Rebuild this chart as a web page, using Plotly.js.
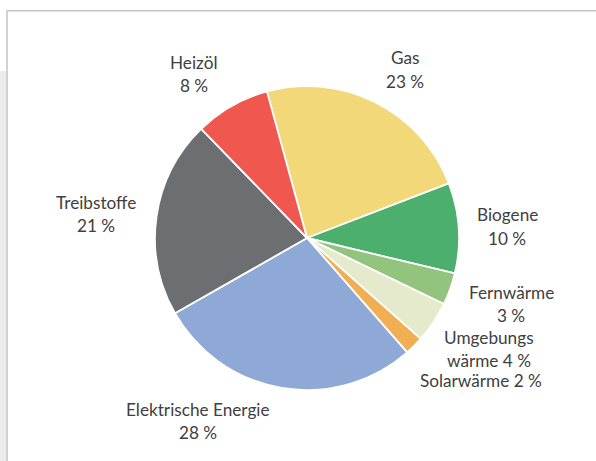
<!DOCTYPE html>
<html>
<head>
<meta charset="utf-8">
<script src="https://cdn.plot.ly/plotly-3.0.1.min.js"></script>
<style>html,body{margin:0;padding:0;background:#fff;}#chart{width:596px;height:461px;}</style>
</head>
<body>
<div id="chart"></div>
<script>
// ---- data ----
const categories = ["Gas", "Biogene", "Fernwärme", "Umgebungswärme", "Solarwärme", "Elektrische Energie", "Treibstoffe", "Heizöl"];
const values = [23.4, 9.6, 3.4, 4.4, 2.0, 28.2, 21.0, 8.0];
const labelLines = [
  ["Gas", "23 %"],
  ["Biogene", "10 %"],
  ["Fernwärme", "3 %"],
  ["Umgebungs", "wärme 4 %"],
  ["Solarwärme 2 %"],
  ["Elektrische Energie", "28 %"],
  ["Treibstoffe", "21 %"],
  ["Heizöl", "8 %"]
];
const colors = ["#F2D878", "#4DAF6D", "#93C47E", "#E6EACC", "#F2AE52", "#8EA9D5", "#6D6E72", "#F0574F"];

// ---- layout helpers (pixel positions of label blocks) ----
const W = 596, H = 461;
const labelPos = [
  [405, 58], [507, 215], [511, 292], [489, 337], [481, 380.5], [198, 409], [96, 202], [194, 62]
];
const lineGap = 23;
const px = x => x / W;
const py = y => 1 - y / H;

const cx = 307, cy = 238, r = 152;

const annotations = [];
labelLines.forEach((lines, i) => {
  lines.forEach((t, j) => {
    annotations.push({
      text: t, xref: "paper", yref: "paper",
      x: px(labelPos[i][0]), y: py(labelPos[i][1] + j * lineGap),
      xanchor: "center", yanchor: "middle", showarrow: false,
      font: {family: "Lato, 'Open Sans', sans-serif", size: 17.2, color: "#404040"}
    });
  });
});

const shapes = [
  {type: "rect", xref: "paper", yref: "paper", x0: 0, x1: px(6.5), y0: 0, y1: py(71),
   fillcolor: "#ECECEC", line: {width: 0}, layer: "below"},
  {type: "rect", xref: "paper", yref: "paper", x0: px(7), x1: px(620), y0: py(480), y1: py(10.8),
   fillcolor: "rgba(0,0,0,0)", line: {color: "#C4C4C4", width: 1.5}, layer: "below"}
];

const trace = {
  type: "pie",
  labels: categories,
  values: values,
  sort: false,
  direction: "clockwise",
  rotation: -15.3,
  textinfo: "none",
  hoverinfo: "label+percent",
  marker: {colors: colors, line: {color: "#FFFFFF", width: 1.8}},
  domain: {x: [px(cx - r), px(cx + r)], y: [py(cy + r), py(cy - r)]},
  showlegend: false
};

const layout = {
  width: W, height: H,
  margin: {l: 0, r: 0, t: 0, b: 0},
  paper_bgcolor: "#FFFFFF",
  showlegend: false,
  annotations: annotations,
  shapes: shapes
};

Plotly.newPlot("chart", [trace], layout, {displayModeBar: false, staticPlot: true});
</script>
</body>
</html>
